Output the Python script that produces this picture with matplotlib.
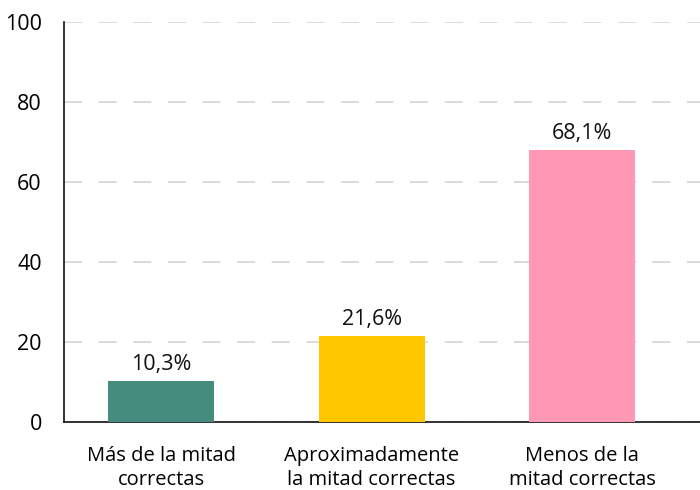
import matplotlib.pyplot as plt

# datos
categorias = ['Más de la mitad\ncorrectas', 'Aproximadamente\nla mitad correctas', 'Menos de la\nmitad correctas']
valores = [10.3, 21.6, 68.1]
etiquetas = ['10,3%', '21,6%', '68,1%']
colores = ['#458C7E', '#FFC700', '#FF97B5']

plt.rcParams['font.family'] = ['Open Sans', 'DejaVu Sans']

fig = plt.figure(figsize=(7, 4.9), dpi=100)
ax = fig.add_axes([64 / 700, (490 - 422) / 490, 636 / 700, 400 / 490])

x = range(len(categorias))
bars = ax.bar(x, valores, width=0.504, color=colores, zorder=3)
for b, t in zip(bars, etiquetas):
    ax.annotate(t, (b.get_x() + b.get_width() / 2, b.get_height()), xytext=(0, 4),
                textcoords='offset points', ha='center', va='bottom', fontsize=15.5, color='#111111')

ax.set_xlim(-0.461, 2.56)
ax.set_ylim(0, 100)
ax.set_yticks([0, 20, 40, 60, 80, 100])
ax.set_xticks(list(x))
ax.set_xticklabels(categorias, fontsize=14.5, linespacing=1.3)
ax.tick_params(axis='y', length=0, pad=16, labelsize=15.5)
ax.tick_params(axis='x', length=0, pad=17)

ax.grid(axis='y', color='#dadada', linestyle=(0, (9.3, 8.5)), linewidth=1.4, zorder=0)
for s in ['top', 'right']:
    ax.spines[s].set_visible(False)
ax.spines['left'].set_linewidth(1.2)
ax.spines['bottom'].set_linewidth(1.2)
ax.spines['left'].set_color('#111111')
ax.spines['bottom'].set_color('#111111')

fig.savefig('out.png', dpi=100)
